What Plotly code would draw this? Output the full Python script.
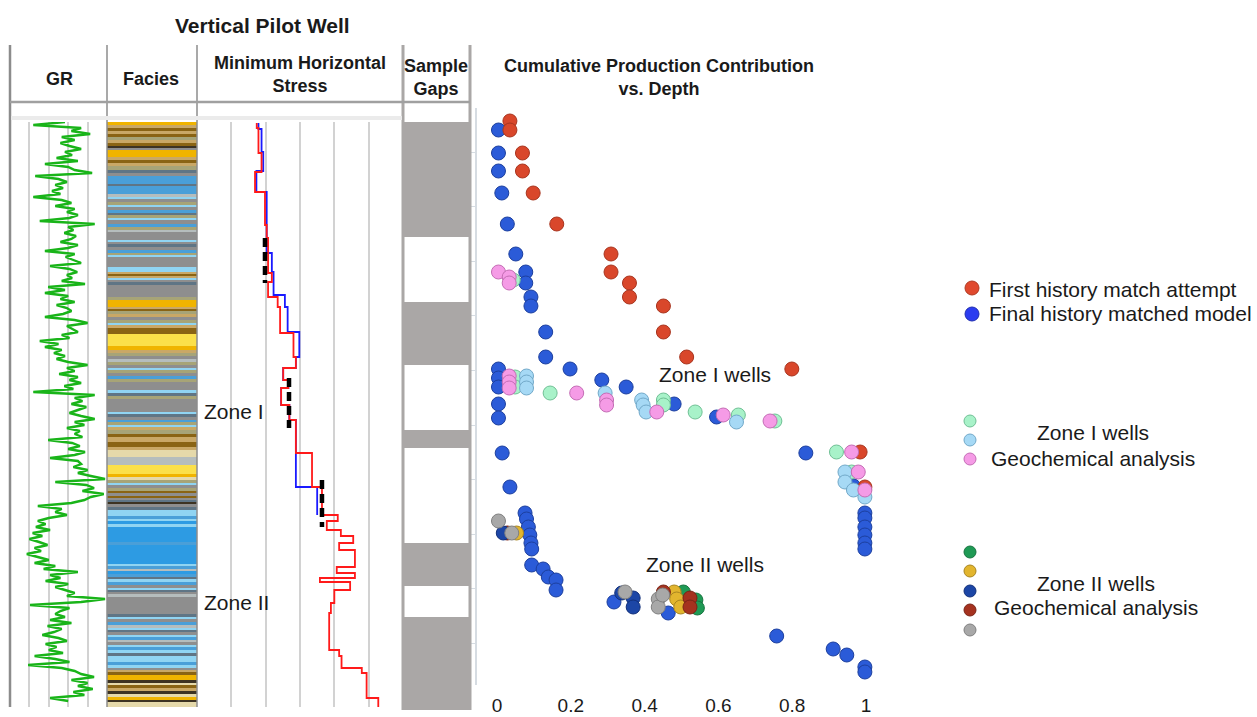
import plotly.graph_objects as go

W, H = 1257, 717
FONT = "Arial, 'Liberation Sans', sans-serif"


def fx(px):
    return px / W


def fy(py):
    return 1 - py / H


# ---------------- Gamma ray log (API), one sample every 3 ft ----------------
gr_step_ft = 3
gr_api = [
    85, 36, 110, 95, 124, 80,
    100, 78, 92, 110, 85, 96, 72, 105, 54, 90, 100, 127,
    39, 75, 88, 70, 82, 65, 78, 36,
    80, 95, 70, 100, 88, 105, 92, 46, 131, 90, 98, 84, 102,
    95, 78, 105, 90, 54, 100, 86, 98, 110, 62, 92, 104, 88,
    96, 80, 116, 59, 85, 54, 90, 78, 100, 72, 88, 95, 82,
    54, 100, 120, 88, 96, 105, 80, 92,
    46, 75, 54, 80, 68, 85, 72, 90,
    120, 88, 100, 76, 105, 92, 110, 84, 98, 36,
    131, 100, 112, 95, 118, 105, 92, 110, 131, 100, 115, 88, 108,
    100, 112, 59, 96, 108, 90, 116, 100, 62, 105,
    110, 98, 120, 105, 125, 147, 70, 118, 130, 112, 145, 125, 115,
    95, 43, 80, 70, 88, 60, 43,
    55, 40, 62, 35, 50, 30, 45, 58, 38, 48,
    26, 44, 60, 38, 70, 52, 105, 62, 78, 55, 90, 70, 84,
    100, 88, 147, 110, 31, 92, 78,
    70, 85, 62, 95, 58, 80, 68, 50, 75, 88, 55, 72, 60, 82, 38,
    70, 92, 28, 80, 100,
    110, 130, 95, 120, 105, 128, 98, 115, 62, 90,
]
gr_depth = [i * gr_step_ft for i in range(len(gr_api))]

# ---------------- Facies column (layer tops in ft, facies code) ----------------
facies_palette = {
    "G": "#f0b400", "DB": "#8a6414", "T": "#c9a866", "O": "#a7a477",
    "GY": "#8e8e8e", "LB": "#90d4f2", "MB": "#4a9fd8", "S": "#5f7585",
    "Y": "#fbe04a", "BG": "#e5d9aa", "BB": "#2d9be3", "DK": "#3d3322",
    "LG": "#b5bdbd",
}
facies_top = [
    0, 3, 6, 9, 12, 15, 18, 21, 24, 26, 28, 35, 38, 41, 44, 48, 51, 54, 62, 64,
    72, 75, 77, 80, 83, 85, 88, 91, 93, 96, 98, 102, 105, 108, 110, 118, 120, 122, 125, 128,
    131, 133, 135, 145, 150, 152, 154, 156, 158, 160, 163, 175, 178, 185, 187, 189, 192, 195, 198, 201,
    203, 206, 212, 224, 228, 231, 234, 237, 240, 243, 246, 248, 251, 254, 257, 260, 268, 271, 274, 277,
    290, 292, 295, 298, 300, 303, 305, 308, 312, 315, 320, 325, 328, 335, 343, 352, 355, 358, 361, 363,
    366, 369, 371, 374, 376, 378, 380, 382, 385, 388, 394, 397, 399, 402, 405, 420, 423, 442, 444, 447,
    449, 452, 455, 457, 460, 463, 466, 468, 470, 472, 475, 492, 495, 497, 500, 503, 506, 508, 510, 513,
    515, 518, 520, 523, 525, 528, 531, 534, 540, 543, 546, 548, 550, 553, 558, 561, 563, 566, 569, 572,
    575, 578, 580,
]
facies_code = [
    "G", "T", "DB", "T", "DB", "O", "T", "DB", "DK", "GY", "G", "T", "DB", "T", "O", "S", "GY", "MB", "S", "MB",
    "LG", "LB", "GY", "O", "LB", "GY", "MB", "S", "O", "LB", "GY", "MB", "O", "LG", "GY", "LB", "GY", "S", "GY", "MB",
    "O", "LB", "GY", "LB", "T", "DB", "T", "LB", "GY", "S", "GY", "O", "G", "T", "DB", "O", "T", "GY", "O", "LB",
    "T", "DB", "Y", "G", "T", "O", "GY", "LG", "O", "GY", "LB", "O", "GY", "MB", "O", "GY", "LB", "S", "O", "GY",
    "LB", "S", "GY", "MB", "O", "LB", "T", "O", "DB", "T", "DB", "T", "BG", "LG", "Y", "G", "BG", "O", "LB", "GY",
    "O", "DB", "GY", "DB", "GY", "S", "DK", "GY", "S", "LB", "MB", "LB", "BB", "LB", "BB", "MB", "BB", "LB", "MB", "LG",
    "BB", "MB", "S", "LB", "MB", "GY", "LB", "S", "GY", "LG", "GY", "S", "LB", "GY", "MB", "LG", "LB", "S", "GY", "LB",
    "MB", "LG", "GY", "LB", "MB", "LB", "S", "LB", "MB", "LB", "GY", "T", "DB", "G", "DK", "BG", "DB", "T", "DK", "BG",
    "G", "DK", "BG",
]
facies_base = 588

# ---------------- Minimum horizontal stress (psi/ft), step profiles ----------------
stress_red_top = [1, 6, 31, 50, 70, 103, 116, 151, 160, 175, 185, 211, 235, 246, 258, 266, 283, 298, 331, 365,
                  393, 399, 408, 414, 421, 428, 445, 451, 456, 460, 468, 481, 491, 528, 534, 546, 551, 576]
stress_red_val = [0.774, 0.779, 0.788, 0.769, 0.798, 0.803, 0.807, 0.818, 0.807, 0.835,
                  0.842, 0.881, 0.888, 0.851, 0.866, 0.845, 0.869, 0.888, 0.935, 0.964,
                  1.010, 0.978, 1.019, 1.055, 1.014, 1.060, 1.007, 1.060, 0.958, 1.046,
                  1.000, 0.990, 0.985, 1.014, 1.021, 1.080, 1.094, 1.128]
stress_red_base = 585

stress_blue_top = [1, 7, 30, 49, 70, 131, 150, 173, 185, 210, 235, 246, 258, 266, 283, 298, 365]
stress_blue_val = [0.779, 0.788, 0.793, 0.773, 0.803, 0.818, 0.823, 0.856, 0.864, 0.898,
                   0.888, 0.851, 0.866, 0.845, 0.869, 0.888, 0.950]
stress_blue_base = 393

# measured stress points (black dashed intervals)
meas_stress = [0.798, 0.868, 0.964]
meas_top = [116, 256, 358]
meas_base = [161, 306, 405]

# ---------------- Sampled intervals (gaps are the white blocks) ----------------
sampled_top = [0, 180, 308, 421, 495]
sampled_base = [115, 243, 326, 464, 588]

# ---------------- Cumulative production contribution vs depth ----------------
first_match_x = [0.035, 0.035, 0.069, 0.069, 0.098, 0.162, 0.309, 0.309, 0.359, 0.359,
                 0.451, 0.451, 0.514, 0.799, 0.984, 0.997]
first_match_d = [-1, 8, 31, 49, 71, 102, 132, 150, 161, 175, 184, 210, 235, 247, 330, 365]

final_match_x = [0.004, 0.004, 0.004, 0.013, 0.028, 0.051, 0.078, 0.078, 0.092, 0.092,
                 0.132, 0.132, 0.198, 0.284, 0.350, 0.480, 0.595,
                 0.004, 0.004, 0.004, 0.004, 0.004, 0.014, 0.035,
                 0.076, 0.080, 0.085, 0.089, 0.092, 0.094, 0.094,
                 0.125, 0.139, 0.160, 0.160, 0.317, 0.464, 0.837, 0.966,
                 0.997, 0.997, 0.997, 0.997, 0.997, 0.997,
                 0.758, 0.911, 0.948, 0.997, 0.997]
final_match_d = [8, 31, 49, 71, 102, 132, 150, 161, 175, 184,
                 210, 235, 247, 258, 265, 282, 295,
                 247, 256, 265, 282, 296, 331, 365,
                 391, 397, 405, 413, 421, 427, 443,
                 447, 455, 458, 468, 480, 491, 331, 364,
                 391, 396, 405, 413, 421, 427,
                 514, 527, 533, 545, 550]

z1_a_x = [0.044, 0.049, 0.049, 0.144, 0.451, 0.451, 0.537, 0.654, 0.753, 0.920, 0.961]
z1_a_d = [158, 255, 265, 271, 278, 283, 290, 293, 299, 330, 350]
z1_b_x = [0.080, 0.080, 0.080, 0.293, 0.392, 0.396, 0.404, 0.649, 0.943, 0.943, 0.966, 0.997]
z1_b_d = [254, 260, 266, 271, 278, 283, 290, 300, 350, 360, 368, 375]
z1_c_x = [0.004, 0.033, 0.033, 0.033, 0.033, 0.033, 0.216, 0.297, 0.297, 0.433, 0.613, 0.740, 0.961, 0.979, 0.997]
z1_c_d = [150, 155, 161, 254, 260, 266, 271, 278, 283, 290, 293, 299, 330, 350, 368]

z2_green_x = [0.505, 0.539, 0.543]
z2_green_d = [470, 478, 486]
z2_gold_x = [0.053, 0.480, 0.487, 0.498]
z2_gold_d = [411, 470, 477, 485]
z2_dred_x = [0.028, 0.451, 0.523, 0.523]
z2_dred_d = [411, 470, 476, 485]
z2_dblue_x = [0.017, 0.338, 0.369, 0.369]
z2_dblue_d = [411, 471, 476, 485]
z2_gray_x = [0.004, 0.040, 0.347, 0.437, 0.437, 0.449]
z2_gray_d = [399, 411, 470, 477, 485, 473]

x_ticks = [0, 0.2, 0.4, 0.6, 0.8, 1]

# series colours (fill, outline)
C_FIRST = ("#d9472b", "#a8351f")
C_FINAL = ("#2b5bd8", "#1c3f9e")
C_Z1 = [("#a8f2c9", "#70c095"), ("#a6d9f5", "#72a9c9"), ("#f59be6", "#c46db5")]
C_Z2 = {"green": ("#1f9a55", "#17743f"), "gold": ("#e2b52e", "#a88520"),
        "dblue": ("#1c46a6", "#12307a"), "dred": ("#a5321f", "#7a2416"),
        "gray": ("#a8a8a8", "#808080")}

fig = go.Figure()

# GR
fig.add_trace(go.Scatter(x=gr_api, y=gr_depth, mode="lines",
                         line=dict(color="#19b419", width=2.4),
                         xaxis="x", yaxis="y", hoverinfo="skip"))

# Facies
fac_thick = [b - t for t, b in zip(facies_top, facies_top[1:] + [facies_base])]
fig.add_trace(go.Bar(x=[0] * len(facies_top), y=fac_thick, base=facies_top, width=1,
                     marker=dict(color=[facies_palette[c] for c in facies_code], line=dict(width=0)),
                     xaxis="x2", yaxis="y2", hoverinfo="skip"))

# Stress profiles
fig.add_trace(go.Scatter(x=stress_blue_val + [stress_blue_val[-1]],
                         y=stress_blue_top + [stress_blue_base],
                         mode="lines", line=dict(color="#1a1aff", width=1.8, shape="vh"),
                         xaxis="x3", yaxis="y3", hoverinfo="skip"))
fig.add_trace(go.Scatter(x=stress_red_val + [stress_red_val[-1]],
                         y=stress_red_top + [stress_red_base],
                         mode="lines", line=dict(color="#ff1a1a", width=1.8, shape="vh"),
                         xaxis="x3", yaxis="y3", hoverinfo="skip"))
mx, my = [], []
for v, t, b in zip(meas_stress, meas_top, meas_base):
    mx += [v, v, None]
    my += [t, b, None]
fig.add_trace(go.Scatter(x=mx, y=my, mode="lines",
                         line=dict(color="black", width=4.5, dash="9px,5px"),
                         xaxis="x3", yaxis="y3", hoverinfo="skip"))

# Sample gaps
fig.add_trace(go.Bar(x=[0] * len(sampled_top),
                     y=[b - t for t, b in zip(sampled_top, sampled_base)],
                     base=sampled_top, width=1.2,
                     marker=dict(color="#aaa7a6", line=dict(width=0)),
                     xaxis="x4", yaxis="y4", hoverinfo="skip"))


def pts(x, d, colors, size=14):
    fig.add_trace(go.Scatter(x=x, y=d, mode="markers",
                             marker=dict(size=size, color=colors[0],
                                         line=dict(color=colors[1], width=1)),
                             xaxis="x5", yaxis="y5", cliponaxis=False, hoverinfo="skip"))


pts(final_match_x, final_match_d, C_FINAL)
pts(first_match_x, first_match_d, C_FIRST)
pts(z1_a_x, z1_a_d, C_Z1[0])
pts(z1_b_x, z1_b_d, C_Z1[1])
pts(z1_c_x, z1_c_d, C_Z1[2])
pts(z2_green_x, z2_green_d, C_Z2["green"])
pts(z2_gold_x, z2_gold_d, C_Z2["gold"])
pts(z2_dred_x, z2_dred_d, C_Z2["dred"])
pts(z2_dblue_x, z2_dblue_d, C_Z2["dblue"])
pts(z2_gray_x, z2_gray_d, C_Z2["gray"])

track_dom = [fy(707), fy(122)]
hidden = dict(visible=False, fixedrange=True, automargin=False)
grid = dict(showgrid=True, gridcolor="#d2d2d2", gridwidth=1.5, showticklabels=False,
            ticks="", zeroline=False, showline=False, fixedrange=True, automargin=False)

fig.update_layout(
    template="none",
    width=W, height=H, margin=dict(l=0, r=0, t=0, b=0, pad=0, autoexpand=False),
    paper_bgcolor="white", plot_bgcolor="rgba(0,0,0,0)",
    showlegend=False, barmode="overlay", bargap=0,
    font=dict(family=FONT, color="#1a1a1a"),
    xaxis=dict(domain=[fx(10), fx(107)], range=[0, 150], tickvals=[30, 60, 90, 120],
               anchor="y", **grid),
    yaxis=dict(domain=track_dom, range=[585, 0], anchor="x", **hidden),
    xaxis2=dict(domain=[fx(107), fx(197)], range=[-0.5, 0.5], anchor="y2", **hidden),
    yaxis2=dict(domain=track_dom, range=[585, 0], anchor="x2", **hidden),
    xaxis3=dict(domain=[fx(197), fx(403)], range=[0.6, 1.2],
                tickvals=[0.7, 0.8, 0.9, 1.0, 1.1], anchor="y3", **grid),
    yaxis3=dict(domain=track_dom, range=[585, 0], anchor="x3", **hidden),
    xaxis4=dict(domain=[fx(403), fx(470)], range=[-0.5, 0.5], anchor="y4", **hidden),
    yaxis4=dict(domain=[fy(710), fy(122)], range=[588, 0], anchor="x4", **hidden),
    xaxis5=dict(domain=[fx(477), fx(905)], range=[(477 - 497) / 369, (905 - 497) / 369],
                anchor="y5", tickvals=x_ticks, showgrid=False, zeroline=False, showline=False,
                ticks="", ticklabelstandoff=7, tickfont=dict(size=19, color="#1a1a1a"),
                fixedrange=True, automargin=False),
    yaxis5=dict(domain=[fy(685), fy(108)], range=[563, -14], anchor="x5",
                showgrid=False, zeroline=False,
                showline=True, linecolor="#d6dce2", linewidth=1.5, ticks="outside",
                ticklen=4, tickwidth=1.2, tickcolor="#d6dce2", tickmode="linear",
                tick0=30, dtick=54.6, showticklabels=False, fixedrange=True, automargin=False),
)

# ---- track frame lines ----
shapes = []


def vline(x, y0, y1, color, width):
    shapes.append(dict(type="line", xref="paper", yref="paper", x0=fx(x), x1=fx(x),
                       y0=fy(y0), y1=fy(y1), line=dict(color=color, width=width), layer="above"))


vline(10, 45, 707, "#8c8c8c", 2.5)
vline(107, 45, 707, "#8c8c8c", 1.5)
vline(197, 45, 707, "#8c8c8c", 1.5)
vline(403, 45, 710, "#aaa7a6", 3)
vline(470, 45, 710, "#aaa7a6", 3)
shapes.append(dict(type="line", xref="paper", yref="paper", x0=fx(10), x1=fx(470),
                   y0=fy(102), y1=fy(102), line=dict(color="#a0a0a0", width=2.5)))
shapes.append(dict(type="rect", xref="paper", yref="paper", x0=fx(11), x1=fx(402),
                   y0=fy(120), y1=fy(116), fillcolor="#ebebeb", line=dict(width=0)))


# ---- legend ----
def dot(cx, cy, dia, colors):
    r = dia / 2
    shapes.append(dict(type="circle", xref="paper", yref="paper",
                       x0=fx(cx - r), x1=fx(cx + r), y0=fy(cy + r), y1=fy(cy - r),
                       fillcolor=colors[0], line=dict(color=colors[1], width=1)))


dot(972, 288, 14, ("#e0492e", "#b03a22"))
dot(972, 314, 14, ("#2b3cf0", "#1f2db0"))
for cy, c in zip([421, 440, 459], C_Z1):
    dot(970, cy, 12, c)
for cy, k in zip([552, 571, 591, 610, 630], ["green", "gold", "dblue", "dred", "gray"]):
    dot(970, cy, 12, C_Z2[k])

fig.update_layout(shapes=shapes)

ann = []


def label(text, x, y, size, xanchor="center", **kw):
    ann.append(dict(text=text, x=fx(x), y=fy(y), xref="paper", yref="paper",
                    xanchor=xanchor, yanchor="middle", showarrow=False,
                    font=dict(size=size, family=FONT, color="#1a1a1a"), **kw))


label("<b>Vertical Pilot Well</b>", 262, 25, 21)
label("<b>GR</b>", 59, 79, 18)
label("<b>Facies</b>", 151, 79, 18)
label("<b>Minimum Horizontal</b><br><b>Stress</b>", 300, 74, 18)
label("<b>Sample</b><br><b>Gaps</b>", 436, 78, 18)
label("<b>Cumulative Production Contribution</b><br><b>vs. Depth</b>", 659, 78, 18)
label("Zone I", 202, 412, 21, xanchor="left")
label("Zone II", 202, 602, 21, xanchor="left")

label("First history match attempt", 987, 289, 21, xanchor="left")
label("Final history matched model", 987, 314, 21, xanchor="left")
label("Zone I wells", 1093, 432, 21)
label("Geochemical analysis", 1093, 458, 21)
label("Zone II wells", 1096, 583, 21)
label("Geochemical analysis", 1096, 607, 21)

for text, xv, dv in [("Zone I wells", 0.59, 253), ("Zone II wells", 0.563, 442)]:
    ann.append(dict(text=text, x=xv, y=dv, xref="x5", yref="y5", showarrow=False,
                    xanchor="center", yanchor="middle",
                    font=dict(size=21, family=FONT, color="#1a1a1a")))

fig.update_layout(annotations=ann)

fig.write_html("out.html", config={"displayModeBar": False})
